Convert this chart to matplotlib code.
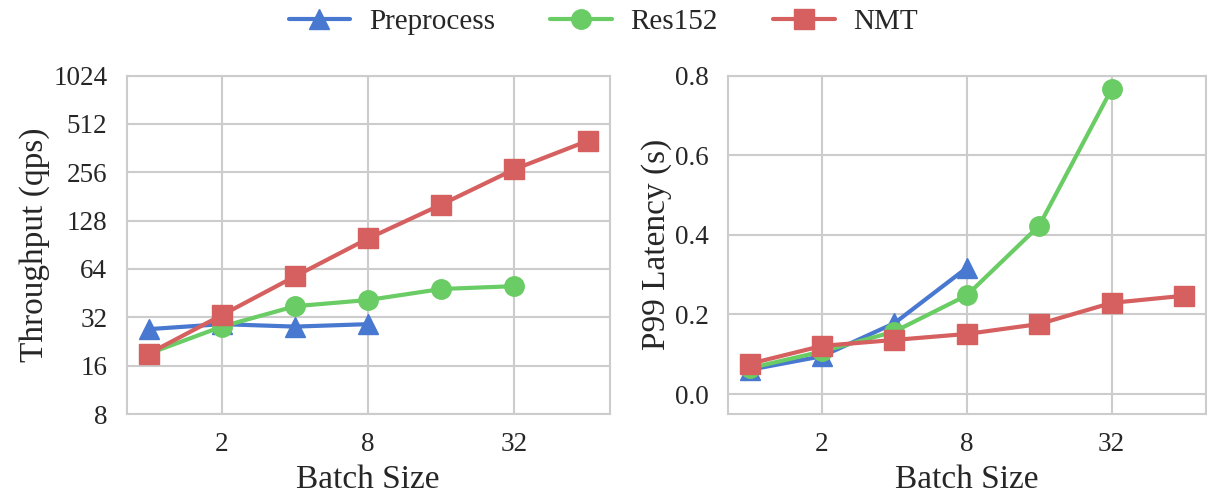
import matplotlib
matplotlib.use("Agg")
import matplotlib.pyplot as plt
import seaborn as sns

batch_pre = [1, 2, 4, 8]
batch_res = [1, 2, 4, 8, 16, 32]
batch_nmt = [1, 2, 4, 8, 16, 32, 64]

# throughput (qps)
tput_pre = [27, 29, 28, 29]
tput_res = [19, 28, 37.5, 41, 48, 50]
tput_nmt = [19, 33, 57.5, 99, 161, 267, 401]

# p99 latency (s)
lat_pre = [0.061, 0.095, 0.178, 0.317]
lat_res = [0.065, 0.107, 0.157, 0.248, 0.423, 0.766]
lat_nmt = [0.076, 0.121, 0.136, 0.151, 0.176, 0.229, 0.247]

labels = ["Preprocess", "Res152", "NMT"]
markers = ["^", "o", "s"]

sns.set_theme(style="whitegrid")
plt.rcParams["font.family"] = ["Liberation Serif", "DejaVu Serif"]
pal = sns.color_palette("muted")
colors = [pal[0], pal[2], pal[3]]
msizes = [14, 14, 15]

fig = plt.figure(figsize=(12.07, 5), dpi=100)
ax1 = fig.add_axes([0.105, 0.172, 0.400, 0.677])
ax2 = fig.add_axes([0.603, 0.172, 0.396, 0.677])

series_t = [(batch_pre, tput_pre), (batch_res, tput_res), (batch_nmt, tput_nmt)]
series_l = [(batch_pre, lat_pre), (batch_res, lat_res), (batch_nmt, lat_nmt)]

for (x, y), lab, m, c, ms in zip(series_t, labels, markers, colors, msizes):
    ax1.plot(x, y, marker=m, color=c, label=lab, linewidth=3, markersize=ms)
for (x, y), lab, m, c, ms in zip(series_l, labels, markers, colors, msizes):
    ax2.plot(x, y, marker=m, color=c, label=lab, linewidth=3, markersize=ms)

for ax in (ax1, ax2):
    ax.set_xscale("log", base=2)
    ax.set_xticks([2, 8, 32])
    ax.set_xticklabels(["2", "8", "32"])
    ax.minorticks_off()
    ax.set_xlabel("Batch Size", fontsize=24, labelpad=5)
    ax.tick_params(axis="x", labelsize=19.5, length=0, pad=13)
    ax.tick_params(axis="y", labelsize=19.5, length=0, pad=14)
    ax.grid(True, color="#cccccc", linewidth=1.5)
    for s in ax.spines.values():
        s.set_color("#cccccc")
        s.set_linewidth(1.5)

ax1.set_yscale("log", base=2)
yt = [8, 16, 32, 64, 128, 256, 512, 1024]
ax1.set_yticks(yt)
ax1.set_yticklabels([str(v) for v in yt])
ax1.minorticks_off()
ax1.set_ylim(8, 1024)
ax1.set_ylabel("Throughput (qps)", fontsize=24, labelpad=2)

ax2.set_ylim(-0.05, 0.8)
ax2.set_yticks([0.0, 0.2, 0.4, 0.6, 0.8])
ax2.set_yticklabels(["0.0", "0.2", "0.4", "0.6", "0.8"])
ax2.set_ylabel("P99 Latency (s)", fontsize=24, labelpad=2)

handles, labs = ax1.get_legend_handles_labels()
fig.legend(handles, labs, loc="upper center", ncol=3, frameon=False,
           fontsize=21, bbox_to_anchor=(0.5, 1.035), columnspacing=1.9,
           handlelength=2.1, handletextpad=0.65)

fig.savefig("out.png", dpi=100)
